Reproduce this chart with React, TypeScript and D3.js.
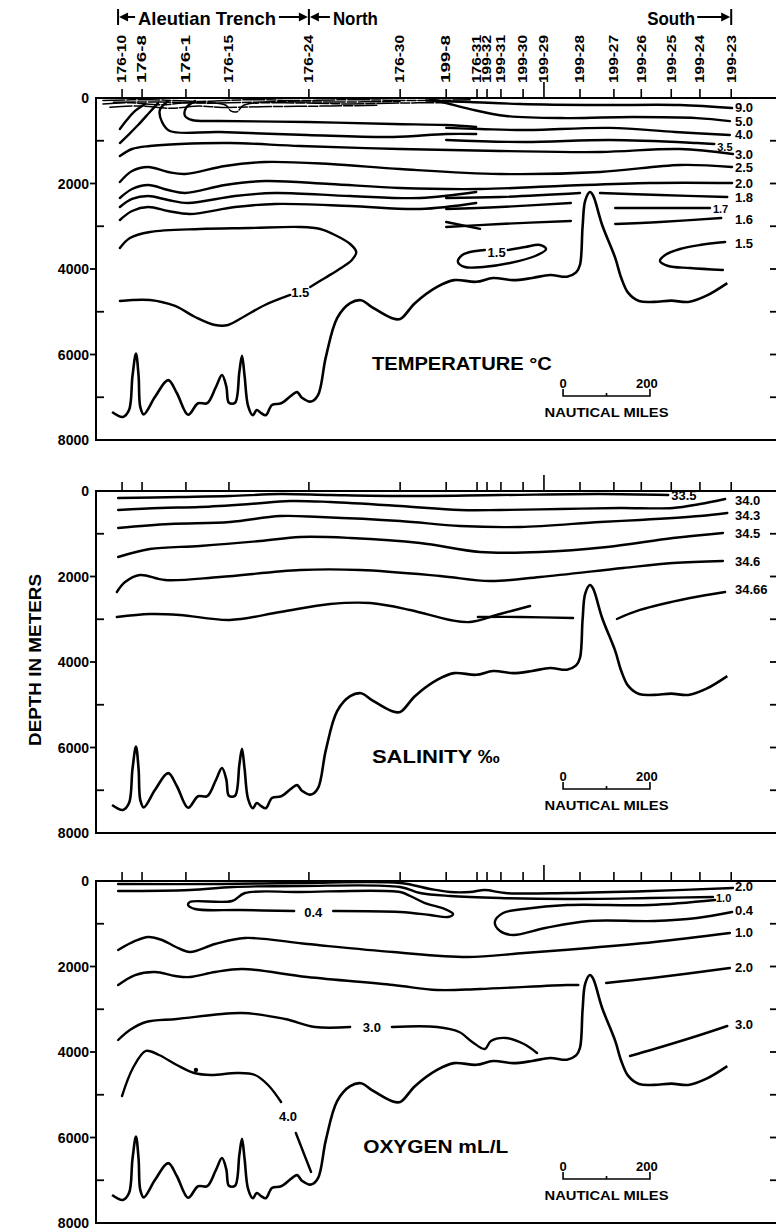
import React from 'react';
import * as d3 from 'd3';

type P = [number, number]; // [distance along section (nautical miles), depth (m)]

const W = 776;
const H = 1232;
const FONT = "'Liberation Sans', Arial, Helvetica, sans-serif";
const PANEL_TOPS = [98, 491, 881];
const PANEL_H = 342;
const RIGHT_LABEL_X = 735;

const xScale = d3.scaleLinear().domain([0, 1572]).range([96, 779]);

// stations along the section
const stationNames = ['176-10', '176-8', '176-1', '176-15', '176-24', '176-30', '199-8', '176-31', '199-32', '199-31', '199-30', '199-29', '199-28', '199-27', '199-26', '199-25', '199-24', '199-23'];
const stationNm = [60, 106, 207, 306, 490, 700, 806, 877, 900, 932, 983, 1031, 1114, 1192, 1255, 1324, 1390, 1462];

const majorDepths = [0, 2000, 4000, 6000, 8000];
const minorDepths = [1000, 3000, 5000, 7000];

// sea floor
const bottom: P[] = [[37, 7345], [62, 7460], [76, 7300], [84, 6500], [92, 5980], [98, 6500], [102, 7230], [110, 7400], [136, 6990], [166, 6600], [186, 6900], [212, 7410], [235, 7140], [256, 7140], [276, 6760], [290, 6480], [300, 6750], [306, 7130], [320, 7130], [330, 6400], [336, 6030], [342, 6500], [350, 7200], [361, 7420], [370, 7300], [380, 7370], [391, 7420], [405, 7180], [426, 7140], [451, 6950], [463, 6880], [474, 7010], [495, 7100], [511, 6950], [529, 6060], [555, 5150], [585, 4800], [610, 4730], [635, 4890], [679, 5140], [700, 5170], [734, 4800], [785, 4420], [824, 4260], [875, 4300], [914, 4210], [960, 4260], [1004, 4210], [1045, 4140], [1084, 4180], [1105, 4080], [1114, 3900], [1120, 3000], [1126, 2400], [1137, 2200], [1144, 2280], [1165, 2970], [1195, 3740], [1209, 4210], [1225, 4560], [1250, 4750], [1285, 4770], [1324, 4740], [1363, 4770], [1404, 4630], [1453, 4330]];

// temperature isotherms
const tSurf1: P[] = [[16, 60], [124, 40], [239, 80], [354, 40], [470, 60], [585, 40], [746, 60], [861, 40]];
const tSurf2: P[] = [[16, 140], [78, 110], [147, 160], [216, 110], [299, 170], [310, 300], [325, 320], [340, 170], [470, 117], [585, 140], [700, 117], [803, 110]];
const tSurf3: P[] = [[32, 215], [101, 185], [170, 240], [239, 190], [290, 220], [378, 205], [539, 187], [650, 170]];
const tSurf4: P[] = [[40, 100], [150, 95], [260, 120], [400, 90], [560, 95], [700, 80]];
const tHookA: P[] = [[55, 725], [69, 538], [87, 328], [113, 140]];
const tHookB: P[] = [[55, 1053], [74, 866], [97, 632], [124, 328], [143, 117]];
const tLeftA: P[] = [[228, 70], [207, 234], [205, 420], [221, 515], [285, 538], [486, 562], [684, 608], [806, 632], [875, 679]];
const tLeftB: P[] = [[166, 70], [147, 281], [152, 562], [170, 772], [285, 795], [486, 866], [684, 912], [806, 842], [875, 842]];
const t90: P[] = [[760, 60], [861, 95], [976, 140], [1160, 165], [1344, 165], [1464, 235]];
const t50: P[] = [[769, 30], [806, 117], [861, 260], [944, 420], [1084, 470], [1234, 445], [1383, 470], [1459, 540]];
const t40: P[] = [[806, 700], [884, 725], [985, 750], [1183, 700], [1333, 795], [1459, 866]];
const t35: P[] = [[806, 983], [985, 1030], [1183, 983], [1383, 1053], [1423, 1076]];
const t30: P[] = [[55, 1357], [83, 1193], [124, 1123], [193, 1076], [308, 1053], [470, 1123], [700, 1193], [930, 1240], [1160, 1263], [1344, 1193], [1466, 1310]];
const t25: P[] = [[55, 1965], [83, 1708], [120, 1614], [166, 1731], [205, 1778], [297, 1590], [389, 1497], [539, 1544], [700, 1661], [930, 1778], [1160, 1731], [1344, 1567], [1464, 1614]];
const t20: P[] = [[55, 2339], [83, 2129], [120, 2035], [166, 2152], [205, 2222], [297, 2035], [389, 1941], [539, 2012], [700, 2105], [884, 2129], [1068, 2058], [1275, 1988], [1464, 1988]];
const t18West: P[] = [[55, 2550], [83, 2362], [120, 2292], [166, 2386], [212, 2456], [320, 2292], [412, 2222], [585, 2292], [746, 2339], [875, 2199]];
const t17West: P[] = [[55, 2854], [83, 2643], [120, 2550], [166, 2643], [216, 2713], [320, 2550], [412, 2479], [585, 2526], [746, 2596], [875, 2456]];
const t16West: P[] = [[806, 2900], [884, 3060]];
const t18East1: P[] = [[806, 2339], [930, 2316], [1114, 2222]];
const t18East2: P[] = [[1160, 2222], [1298, 2269], [1453, 2316]];
const t17East1: P[] = [[806, 2596], [930, 2550], [1093, 2456]];
const t17East2: P[] = [[1195, 2573], [1298, 2573], [1413, 2573]];
const t16East1: P[] = [[806, 3017], [930, 2947], [1093, 2877]];
const t16East2: P[] = [[1195, 2947], [1298, 2900], [1439, 2807]];
const t15BigA: P[] = [[55, 3509], [78, 3275], [124, 3134], [239, 3064], [354, 3041], [470, 3017], [516, 3064], [550, 3204], [585, 3415], [599, 3602], [589, 3789], [564, 3976], [527, 4210], [493, 4421]];
const t15BigB: P[] = [[447, 4608], [389, 4842], [343, 5099], [304, 5310], [274, 5310], [228, 5122], [182, 4865], [124, 4725], [55, 4748]];
const t15Mid: P[] = [[948, 3555], [988, 3485], [1022, 3438], [1036, 3532], [1011, 3696], [953, 3859], [891, 3953], [849, 3953], [833, 3836], [843, 3672], [861, 3602], [895, 3555]];
const t15East: P[] = [[1448, 3368], [1390, 3438], [1344, 3532], [1310, 3672], [1298, 3813], [1317, 3930], [1367, 3976], [1443, 4023]];

// salinity isohalines
const s335: P[] = [[51, 164], [193, 140], [308, 117], [424, 70], [539, 94], [700, 117], [930, 94], [1160, 70], [1317, 94]];
const s340: P[] = [[51, 444], [147, 398], [239, 374], [354, 304], [447, 234], [539, 257], [700, 351], [838, 444], [930, 444], [1068, 421], [1206, 398], [1328, 398], [1390, 304], [1448, 187]];
const s343: P[] = [[51, 865], [170, 772], [308, 725], [424, 585], [516, 608], [700, 702], [838, 819], [976, 842], [1160, 725], [1252, 678], [1390, 585], [1453, 515]];
const s345: P[] = [[51, 1544], [124, 1357], [239, 1286], [378, 1170], [470, 1076], [585, 1099], [746, 1216], [884, 1427], [1022, 1427], [1176, 1310], [1328, 1099], [1443, 982]];
const s346: P[] = [[48, 2362], [67, 2129], [101, 1965], [159, 2082], [285, 2012], [470, 1848], [608, 1848], [792, 1988], [907, 2105], [1022, 2012], [1213, 1801], [1328, 1684], [1443, 1637]];
const s3466West: P[] = [[48, 2947], [124, 2877], [193, 2900], [308, 3017], [424, 2830], [539, 2643], [631, 2620], [723, 2783], [815, 3017], [861, 3064], [930, 2877], [999, 2690]];
const s3466Mid: P[] = [[879, 2947], [976, 2947], [1098, 2971]];
const s3466East: P[] = [[1199, 2994], [1252, 2783], [1367, 2503], [1448, 2362]];

// oxygen
const o20Top: P[] = [[51, 70], [285, 70], [470, 47], [700, 47], [769, 187], [815, 257], [861, 257], [895, 211], [942, 281], [1084, 281], [1275, 234], [1466, 164]];
const o10Top: P[] = [[51, 234], [216, 211], [315, 140], [470, 117], [700, 140], [746, 281], [815, 351], [930, 398], [1084, 421], [1275, 398], [1420, 374]];
const o04West: P[] = [[546, 702], [700, 725], [769, 795], [810, 842], [822, 772], [803, 655], [757, 515], [723, 351], [700, 257], [470, 257], [343, 281], [313, 468], [216, 491], [212, 561], [228, 655], [331, 678], [456, 702]];
const o04East: P[] = [[1425, 444], [1275, 561], [1084, 561], [985, 655], [937, 749], [918, 959], [930, 1170], [960, 1263], [1034, 1099], [1135, 936], [1285, 936], [1383, 865], [1464, 725]];
const o10: P[] = [[51, 1614], [90, 1403], [120, 1310], [152, 1380], [184, 1544], [216, 1661], [274, 1474], [343, 1333], [486, 1474], [684, 1661], [854, 1778], [985, 1684], [1135, 1567], [1285, 1427], [1459, 1216]];
const o20West: P[] = [[51, 2433], [90, 2199], [136, 2129], [182, 2222], [216, 2246], [274, 2129], [336, 2058], [486, 2246], [684, 2433], [785, 2550], [884, 2526], [1084, 2433], [1110, 2433]];
const o20East: P[] = [[1174, 2386], [1280, 2269], [1459, 2035]];
const o30West: P[] = [[51, 3719], [78, 3485], [115, 3298], [186, 3228], [336, 3088], [435, 3228], [504, 3415], [585, 3415]];
const o30Mid: P[] = [[681, 3415], [785, 3415], [836, 3532], [866, 3766], [895, 3930], [909, 3742], [944, 3672], [985, 3813], [1015, 4023]];
const o30East: P[] = [[1229, 4093], [1285, 3930], [1383, 3626], [1453, 3392]];
const o40A: P[] = [[60, 5029], [85, 4374], [115, 3976], [145, 4070], [186, 4304], [226, 4491], [265, 4538], [325, 4491], [366, 4538], [396, 4772], [426, 5169]];
const o40B: P[] = [[460, 5894], [495, 6806]];

interface Contour {
  pts: P[];
  label?: string;
  at?: 'right' | 'end' | P;
  small?: boolean;
  thin?: boolean;
  dy?: number;
}

const tempLines: Contour[] = [
  { pts: tSurf1, thin: true }, { pts: tSurf2, thin: true }, { pts: tSurf3, thin: true }, { pts: tSurf4, thin: true },
  { pts: tHookA }, { pts: tHookB }, { pts: tLeftA }, { pts: tLeftB },
  { pts: t90, label: '9.0', at: 'right', dy: 4 },
  { pts: t50, label: '5.0', at: 'right' },
  { pts: t40, label: '4.0', at: 'right', dy: 4 },
  { pts: t35, label: '3.5', at: 'end', small: true, dy: 7 },
  { pts: t30, label: '3.0', at: 'right' },
  { pts: t25, label: '2.5', at: 'right' },
  { pts: t20, label: '2.0', at: 'right' },
  { pts: t18West }, { pts: t17West }, { pts: t16West },
  { pts: t18East1 }, { pts: t18East2, label: '1.8', at: 'right' },
  { pts: t17East1 }, { pts: t17East2, label: '1.7', at: 'end', small: true },
  { pts: t16East1 }, { pts: t16East2, label: '1.6', at: 'right', dy: 6 },
  { pts: t15BigA }, { pts: t15BigB, label: '1.5', at: [470, 4540] },
  { pts: t15Mid, label: '1.5', at: [922, 3600] },
  { pts: t15East, label: '1.5', at: 'right', dy: 6 },
];

const salLines: Contour[] = [
  { pts: s335, label: '33.5', at: 'end' },
  { pts: s340, label: '34.0', at: 'right', dy: 6 },
  { pts: s343, label: '34.3', at: 'right', dy: 7 },
  { pts: s345, label: '34.5', at: 'right' },
  { pts: s346, label: '34.6', at: 'right' },
  { pts: s3466West }, { pts: s3466Mid },
  { pts: s3466East, label: '34.66', at: 'right', dy: 2 },
];

const oxyLines: Contour[] = [
  { pts: o20Top, label: '2.0', at: 'right', dy: 3 },
  { pts: o10Top, label: '1.0', at: 'end', small: true },
  { pts: o04West, label: '0.4', at: [500, 725] },
  { pts: o04East, label: '0.4', at: 'right', dy: 3 },
  { pts: o10, label: '1.0', at: 'right', dy: 4 },
  { pts: o20West }, { pts: o20East, label: '2.0', at: 'right', dy: 4 },
  { pts: o30West }, { pts: o30Mid, label: '3.0', at: [635, 3415] },
  { pts: o30East, label: '3.0', at: 'right', dy: 3 },
  { pts: o40A }, { pts: o40B, label: '4.0', at: [442, 5500] },
];

const panels = [
  { title: 'TEMPERATURE °C', titleLen: 180, titleNm: 635, lines: tempLines },
  { title: 'SALINITY ‰', titleLen: 128, titleNm: 635, lines: salLines },
  { title: 'OXYGEN mL/L', titleLen: 145, titleNm: 615, lines: oxyLines },
];

function Panel({ top, idx }: { top: number; idx: number }) {
  const cfg = panels[idx];
  const x = xScale;
  const y = d3.scaleLinear().domain([0, 8000]).range([top, top + PANEL_H]);
  const line = d3.line<P>().x(d => x(d[0])).y(d => y(d[1])).curve(d3.curveCatmullRom.alpha(0.5));
  const [x0, x1] = x.range();
  const barY = y(6970);
  const sb0 = x(1075);
  const sb1 = x(1275);

  return (
    <g>
      <rect x={x0} y={top} width={x1 - x0} height={PANEL_H} fill="none" stroke="#000" strokeWidth={2} />
      {majorDepths.map(d => (
        <g key={'M' + d}>
          {d > 0 && d < 8000 && <line x1={x0 - 6} x2={x0} y1={y(d)} y2={y(d)} stroke="#000" strokeWidth={1.8} />}
          <text x={x0 - 7} y={y(d)} dy="0.36em" textAnchor="end" fontSize={14} fontWeight="bold">{d}</text>
        </g>
      ))}
      {minorDepths.map(d => (
        <line key={'m' + d} x1={x0} x2={x0 + 8} y1={y(d)} y2={y(d)} stroke="#000" strokeWidth={1.8} />
      ))}
      {[...minorDepths, 2000, 4000, 6000].map(d => (
        <line key={'r' + d} x1={x1 - 9} x2={x1 - 2} y1={y(d)} y2={y(d)} stroke="#000" strokeWidth={1.8} />
      ))}
      {stationNm.map((s, i) => (
        <line key={'st' + i} x1={x(s)} x2={x(s)} y1={top - (i === 11 ? 16 : 9)} y2={top} stroke="#000" strokeWidth={1.6} />
      ))}

      {cfg.lines.map((c, i) => (
        <path key={'c' + i} d={line(c.pts) || ''} fill="none" stroke="#000"
          strokeWidth={c.thin ? 1.5 : 2.4} strokeLinecap="round" strokeLinejoin="round"
          strokeDasharray={c.thin ? '22 2 9 2' : undefined} />
      ))}
      {cfg.lines.filter(c => c.label).map((c, i) => {
        const last = c.pts[c.pts.length - 1];
        const first = c.pts[0];
        if (c.at === 'right') {
          const e = c.pts === t15East ? first : last;
          return <text key={'l' + i} x={RIGHT_LABEL_X} y={y(e[1]) + (c.dy ?? 5)} fontSize={13} fontWeight="bold">{c.label}</text>;
        }
        if (c.at === 'end') {
          return <text key={'l' + i} x={x(last[0]) + 3} y={y(last[1]) + (c.dy ?? 5)} fontSize={c.small ? 11 : 13} fontWeight="bold">{c.label}</text>;
        }
        const p = c.at as P;
        return <text key={'l' + i} x={x(p[0])} y={y(p[1])} dy="0.36em" textAnchor="middle" fontSize={13} fontWeight="bold">{c.label}</text>;
      })}

      <path d={line(bottom) || ''} fill="none" stroke="#000" strokeWidth={2.6} strokeLinejoin="round" />
      {idx === 2 && <circle cx={x(230)} cy={y(4420)} r={2.2} fill="#000" />}

      <text x={x(cfg.titleNm)} y={y(6360)} fontSize={18} fontWeight="bold" textLength={cfg.titleLen} lengthAdjust="spacingAndGlyphs">{cfg.title}</text>

      <path d={`M${sb0},${barY - 7}V${barY}H${sb1}V${barY - 7}M${(sb0 + sb1) / 2},${barY}V${barY - 3}`} fill="none" stroke="#000" strokeWidth={1.6} />
      <text x={sb0} y={barY - 8} textAnchor="middle" fontSize={13} fontWeight="bold">0</text>
      <text x={sb1 - 3} y={barY - 8} textAnchor="middle" fontSize={13} fontWeight="bold">200</text>
      <text x={(sb0 + sb1) / 2} y={barY + 21} textAnchor="middle" fontSize={12.5} fontWeight="bold" textLength={124} lengthAdjust="spacingAndGlyphs">NAUTICAL MILES</text>
    </g>
  );
}

function Header() {
  const xa = xScale(stationNm[0]) - 4;
  const xb = xScale(stationNm[4]);
  const xc = xScale(stationNm[17]);
  const cy = 17;
  const leftHead = (tx: number) => `M${tx},${cy}L${tx + 9},${cy - 4.5}L${tx + 9},${cy + 4.5}Z`;
  const rightHead = (tx: number) => `M${tx},${cy}L${tx - 9},${cy - 4.5}L${tx - 9},${cy + 4.5}Z`;
  return (
    <g>
      <line x1={xa} x2={xa} y1={9} y2={25} stroke="#000" strokeWidth={2} />
      <path d={leftHead(xa + 1)} fill="#000" />
      <line x1={xa + 9} x2={xa + 17} y1={cy} y2={cy} stroke="#000" strokeWidth={2} />
      <text x={xa + 20} y={25} fontSize={19} fontWeight="bold" textLength={138} lengthAdjust="spacingAndGlyphs">Aleutian Trench</text>
      <line x1={xb - 30} x2={xb - 9} y1={cy} y2={cy} stroke="#000" strokeWidth={2} />
      <path d={rightHead(xb - 1)} fill="#000" />
      <line x1={xb} x2={xb} y1={9} y2={25} stroke="#000" strokeWidth={2} />
      <path d={leftHead(xb + 1)} fill="#000" />
      <line x1={xb + 9} x2={xb + 21} y1={cy} y2={cy} stroke="#000" strokeWidth={2} />
      <text x={xb + 24} y={25} fontSize={19} fontWeight="bold" textLength={45} lengthAdjust="spacingAndGlyphs">North</text>
      <text x={xc - 84} y={25} fontSize={19} fontWeight="bold" textLength={48} lengthAdjust="spacingAndGlyphs">South</text>
      <line x1={xc - 34} x2={xc - 9} y1={cy} y2={cy} stroke="#000" strokeWidth={2} />
      <path d={rightHead(xc - 1)} fill="#000" />
      <line x1={xc} x2={xc} y1={9} y2={25} stroke="#000" strokeWidth={2} />
      {stationNames.map((n, i) => (
        <text key={n} transform={`translate(${xScale(stationNm[i]) + 4.3},83) rotate(-90)`} fontSize={12} fontWeight="bold" textLength={48} lengthAdjust="spacingAndGlyphs">{n}</text>
      ))}
    </g>
  );
}

export default function App() {
  return (
    <div style={{ position: 'absolute', left: 0, top: 0 }}>
      <svg width={W} height={H} viewBox={`0 0 ${W} ${H}`} style={{ display: 'block', background: '#fff' }} fontFamily={FONT} fill="#000">
        <rect width={W} height={H} fill="#fff" />
        <Header />
        {PANEL_TOPS.map((t, i) => <Panel key={i} top={t} idx={i} />)}
        <text transform="translate(41,660) rotate(-90)" textAnchor="middle" fontSize={17} fontWeight="bold" textLength={172} lengthAdjust="spacingAndGlyphs">DEPTH IN METERS</text>
      </svg>
    </div>
  );
}
